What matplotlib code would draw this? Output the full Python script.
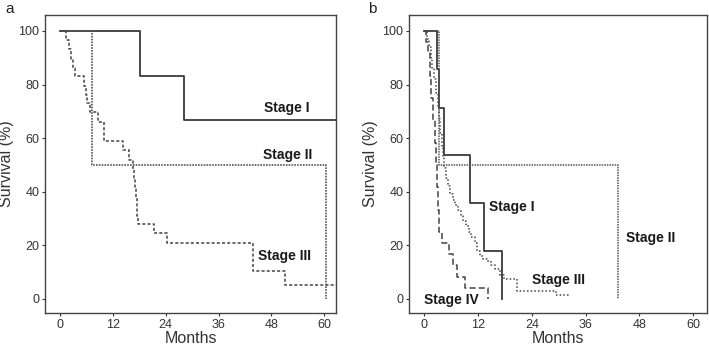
import matplotlib.pyplot as plt
import numpy as np

plt.rcParams['font.family'] = ['Liberation Sans', 'DejaVu Sans']

# ---- panel a: Kaplan-Meier steps (months, survival %)
a_t1 = [0, 18.2, 28.1, 63]
a_s1 = [100, 83.3, 66.7, 66.7]
a_t2 = [0, 7.2, 60.4]
a_s2 = [100, 50, 0]
a_t3 = [0, 1.3, 2.0, 2.5, 3.0, 3.5, 5.5, 5.8, 6.1, 6.8, 8.7, 10.0, 14.4, 15.7,
        16.5, 16.8, 17.0, 17.2, 17.4, 17.6, 17.8, 21.4, 24.3, 43.8, 51.0, 63]
a_s3 = [100, 96.6, 93.1, 89.7, 86.2, 83.3, 79.5, 76, 73, 69.7, 66, 59, 55.5, 52,
        48.5, 45, 41.5, 38, 34.5, 31, 28, 24.4, 21, 10.5, 5.2, 5.2]

# ---- panel b
b_t1 = [0, 2.75, 3.3, 4.5, 10.2, 13.4, 17.3]
b_s1 = [100, 85.7, 71.4, 53.6, 35.7, 17.9, 0]
b_t2 = [0, 3.2, 43.3]
b_s2 = [100, 50, 0]
b_t3 = [0, 0.5, 1.0, 1.4, 1.8, 2.2, 2.6, 3.0, 3.3, 3.6, 3.9, 4.2, 4.5, 4.9, 5.3,
        5.8, 6.3, 6.9, 7.5, 8.1, 8.7, 9.3, 9.9, 10.5, 11.2, 11.7, 12.4, 13.2,
        14.0, 14.8, 15.8, 16.8, 17.8, 20.6, 29.3, 32.3]
b_s3 = [100, 97, 94, 90, 86, 82, 77, 72, 67, 62, 57, 53, 49, 45, 42, 39, 37, 35,
        33, 31, 29, 27, 25, 23, 21, 18, 16, 15, 14, 12.5, 11, 9, 7.5, 3, 1.5, 1.5]
b_t4 = [0, 0.4, 0.8, 1.2, 1.6, 2.0, 2.3, 2.6, 2.9, 3.0, 3.2, 3.9, 5.4, 6.3, 7.2, 9.0, 14.3]
b_s4 = [100, 95.8, 91.7, 83.3, 75, 66.7, 58.3, 50, 41.7, 33.3, 25, 20.8, 16.7, 12.5,
        8.3, 4.2, 0]

xticks = [0, 12, 24, 36, 48, 60]
yticks = [0, 20, 40, 60, 80, 100]

fig = plt.figure(figsize=(7.09, 3.47), dpi=100)
ax1 = fig.add_axes([0.0635, 0.098, 0.4105, 0.859])
ax2 = fig.add_axes([0.577, 0.098, 0.4203, 0.859])

solid = dict(color='#3a3a3a', lw=1.3, where='post')

ax1.step(a_t1, a_s1, **solid)
ax1.step(a_t2, a_s2, color='#555555', lw=1.2, ls=(0, (1, 0.7)), where='post')
ax1.step(a_t3, a_s3, color='#444444', lw=1.1, ls=(0, (2, 1.4)), where='post')

ax2.step(b_t1, b_s1, **solid)
ax2.step(b_t2, b_s2, color='#555555', lw=1.1, ls=(0, (1, 0.7)), where='post')
ax2.step(b_t3, b_s3, color='#444444', lw=1.1, ls=(0, (1, 1.4)), where='post')
ax2.step(b_t4, b_s4, color='#444444', lw=1.1, ls=(0, (4, 2)), where='post')

tkw = dict(fontsize=10, fontweight='bold', color='#1a1a1a', ha='center', va='center')
ax1.text(51.5, 71.3, 'Stage I', **tkw)
ax1.text(51.6, 53.7, 'Stage II', **tkw)
ax1.text(51.0, 16.0, 'Stage III', **tkw)
ax2.text(19.5, 34.2, 'Stage I', **tkw)
ax2.text(50.4, 22.7, 'Stage II', **tkw)
ax2.text(30.0, 7.1, 'Stage III', **tkw)
ax2.text(6.1, -0.3, 'Stage IV', **tkw)

for ax, xl in [(ax1, (-3.4, 62.7)), (ax2, (-3.4, 63.1))]:
    ax.set_xlim(*xl)
    ax.set_ylim(-5.3, 106)
    ax.set_xticks(xticks)
    ax.set_yticks(yticks)
    ax.tick_params(labelsize=9, colors='#333333', length=2.5, width=0.8, pad=1.5)
    ax.set_xlabel('Months', fontsize=11.5, color='#333333', labelpad=0)
    ax.set_ylabel('Survival (%)', fontsize=11.5, color='#333333', labelpad=3)
    for sp in ax.spines.values():
        sp.set_color('#444444')
        sp.set_linewidth(1.0)

fig.text(0.008, 0.975, 'a', fontsize=11, color='#222222', va='center')
fig.text(0.519, 0.975, 'b', fontsize=11, color='#222222', va='center')

plt.savefig('out.png', dpi=100)
